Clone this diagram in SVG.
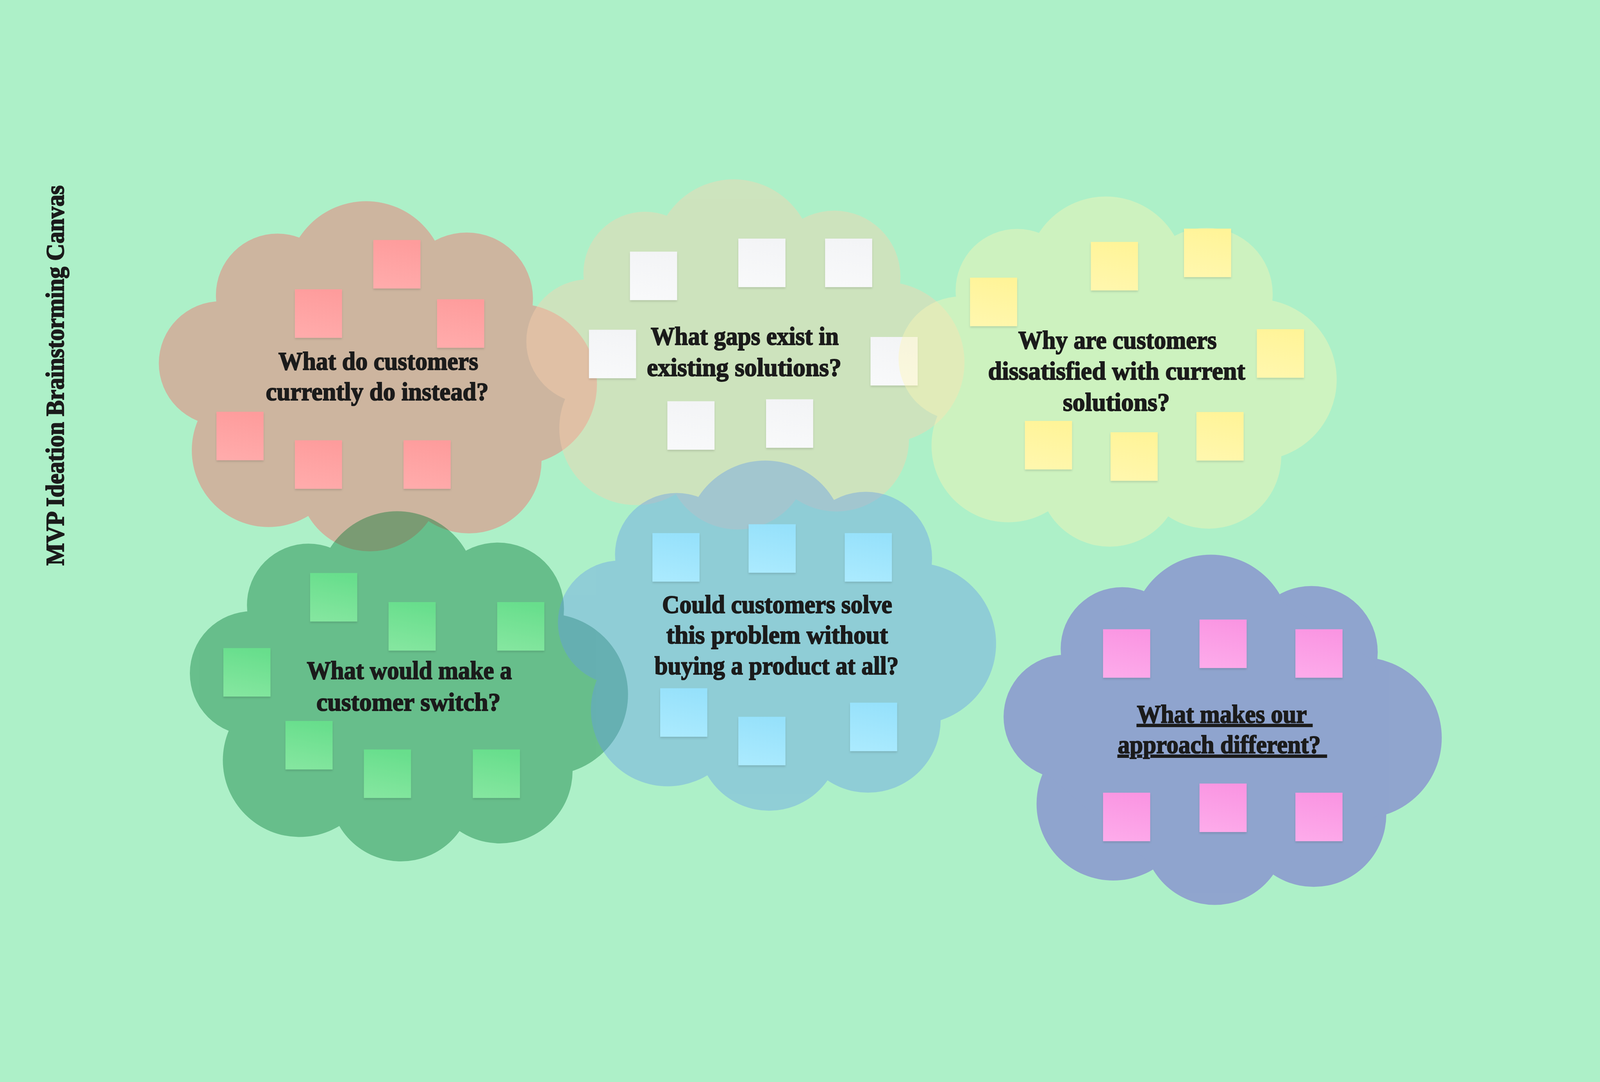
<svg xmlns="http://www.w3.org/2000/svg" width="5773" height="2771" viewBox="0 0 5773 2771">
<style>
:root{width:100vw;height:100vh;background:#adf0c8}
.q{font-family:"Liberation Serif","Times New Roman",serif;font-weight:700;font-size:92px;fill:#1b1b1b;stroke:#1b1b1b;stroke-width:3px;text-anchor:middle}
.qs{text-anchor:start}
.u{text-decoration:underline}
.n{filter:url(#sh)}
.pink{fill:url(#gPink)}
.white{fill:url(#gWhite)}
.yel{fill:url(#gYel)}
.grn{fill:url(#gGrn)}
.blu{fill:url(#gBlu)}
.mag{fill:url(#gMag)}
.cl{opacity:0.4}
</style>
<defs>
<g id="cloud">
<circle cx="748" cy="290" r="287"/>
<circle cx="428" cy="342" r="222"/>
<circle cx="224" cy="588" r="224"/>
<circle cx="396" cy="902" r="277"/>
<circle cx="762" cy="1009" r="258"/>
<circle cx="1119" cy="940" r="262"/>
<circle cx="1290" cy="664" r="291"/>
<circle cx="1111" cy="355" r="239"/>
<polygon points="513,141 987,162 1341,390 1369,934 972,1146 547,1133 155,794 228,368"/>
</g>
<linearGradient id="gPink" x1="0.6" y1="0" x2="0.4" y2="1"><stop offset="0" stop-color="#fe9c9c"/><stop offset="1" stop-color="#ffabab"/></linearGradient>
<linearGradient id="gWhite" x1="0.6" y1="0" x2="0.4" y2="1"><stop offset="0" stop-color="#f3f4f6"/><stop offset="1" stop-color="#f8f9fa"/></linearGradient>
<linearGradient id="gYel" x1="0.6" y1="0" x2="0.4" y2="1"><stop offset="0" stop-color="#fff498"/><stop offset="1" stop-color="#fff7ad"/></linearGradient>
<linearGradient id="gGrn" x1="0.6" y1="0" x2="0.4" y2="1"><stop offset="0" stop-color="#67de8c"/><stop offset="1" stop-color="#84e69f"/></linearGradient>
<linearGradient id="gBlu" x1="0.6" y1="0" x2="0.4" y2="1"><stop offset="0" stop-color="#96e1fb"/><stop offset="1" stop-color="#aaeafe"/></linearGradient>
<linearGradient id="gMag" x1="0.6" y1="0" x2="0.4" y2="1"><stop offset="0" stop-color="#fa95e2"/><stop offset="1" stop-color="#fdaaea"/></linearGradient>
<filter id="sh" x="-10%" y="-10%" width="120%" height="125%"><feDropShadow dx="0" dy="5" stdDeviation="4" flood-color="#000" flood-opacity="0.13"/></filter>
</defs>
<rect width="5773" height="2771" fill="#adf0c8"/>
<g id="title">
<text class="q qs" transform="translate(230,1474) rotate(-90)" textLength="1372" lengthAdjust="spacingAndGlyphs">MVP Ideation Brainstorming Canvas</text>
</g>
<g id="connectors"/>
<g id="node-alternatives">
<use href="#cloud" x="573" y="156" fill="#fd5f64" class="cl"/>
<rect class="n pink" x="1347" y="299" width="170" height="175"/>
<rect class="n pink" x="1064" y="477" width="170" height="175"/>
<rect class="n pink" x="1577" y="513" width="170" height="175"/>
<rect class="n pink" x="781" y="919" width="170" height="175"/>
<rect class="n pink" x="1064" y="1022" width="170" height="175"/>
<rect class="n pink" x="1456" y="1022" width="170" height="175"/>
<text class="q" x="1365" y="767" textLength="721" lengthAdjust="spacingAndGlyphs">What do customers</text>
<text class="q" x="1361" y="878" textLength="804" lengthAdjust="spacingAndGlyphs">currently do instead?</text>
</g>
<g id="node-gaps">
<use href="#cloud" x="1899" y="77" fill="#fdd2af" class="cl"/>
<rect class="n white" x="2273" y="341" width="170" height="175"/>
<rect class="n white" x="2664" y="294" width="170" height="175"/>
<rect class="n white" x="2977" y="294" width="170" height="175"/>
<rect class="n white" x="2125" y="623" width="170" height="175"/>
<rect class="n white" x="3141" y="649" width="170" height="175"/>
<rect class="n white" x="2408" y="881" width="170" height="175"/>
<rect class="n white" x="2764" y="874" width="170" height="175"/>
<text class="q" x="2687" y="677" textLength="678" lengthAdjust="spacingAndGlyphs">What gaps exist in</text>
<text class="q" x="2685" y="790" textLength="702" lengthAdjust="spacingAndGlyphs">existing solutions?</text>
</g>
<g id="node-dissatisfied">
<use href="#cloud" x="3242" y="139" fill="#fff7b4" class="cl"/>
<rect class="n yel" x="3500" y="435" width="170" height="175"/>
<rect class="n yel" x="3936" y="306" width="170" height="175"/>
<rect class="n yel" x="4272" y="258" width="170" height="175"/>
<rect class="n yel" x="4535" y="621" width="170" height="175"/>
<rect class="n yel" x="3698" y="952" width="170" height="175"/>
<rect class="n yel" x="4007" y="993" width="170" height="175"/>
<rect class="n yel" x="4317" y="920" width="170" height="175"/>
<text class="q" x="4032" y="692" textLength="716" lengthAdjust="spacingAndGlyphs">Why are customers</text>
<text class="q" x="4029" y="803" textLength="928" lengthAdjust="spacingAndGlyphs">dissatisfied with current</text>
<text class="q" x="4028" y="916" textLength="386" lengthAdjust="spacingAndGlyphs">solutions?</text>
</g>
<g id="node-switch">
<use href="#cloud" x="685" y="1275" fill="#007632" class="cl"/>
<rect class="n grn" x="1119" y="1501" width="170" height="175"/>
<rect class="n grn" x="1402" y="1606" width="170" height="175"/>
<rect class="n grn" x="1794" y="1606" width="170" height="175"/>
<rect class="n grn" x="806" y="1772" width="170" height="175"/>
<rect class="n grn" x="1030" y="2035" width="170" height="175"/>
<rect class="n grn" x="1313" y="2138" width="170" height="175"/>
<rect class="n grn" x="1706" y="2138" width="170" height="175"/>
<text class="q" x="1477" y="1884" textLength="740" lengthAdjust="spacingAndGlyphs">What would make a</text>
<text class="q" x="1474" y="1998" textLength="665" lengthAdjust="spacingAndGlyphs">customer switch?</text>
</g>
<g id="node-without-product">
<use href="#cloud" x="2013" y="1092" fill="#649beb" class="cl"/>
<rect class="n blu" x="2354" y="1357" width="170" height="175"/>
<rect class="n blu" x="2701" y="1325" width="170" height="175"/>
<rect class="n blu" x="3048" y="1357" width="170" height="175"/>
<rect class="n blu" x="2382" y="1917" width="170" height="175"/>
<rect class="n blu" x="2664" y="2020" width="170" height="175"/>
<rect class="n blu" x="3067" y="1969" width="170" height="175"/>
<text class="q" x="2804" y="1646" textLength="830" lengthAdjust="spacingAndGlyphs">Could customers solve</text>
<text class="q" x="2804" y="1755" textLength="800" lengthAdjust="spacingAndGlyphs">this problem without</text>
<text class="q" x="2802" y="1867" textLength="881" lengthAdjust="spacingAndGlyphs">buying a product at all?</text>
</g>
<g id="node-different">
<use href="#cloud" x="3621" y="1432" fill="#6434d7" class="cl"/>
<rect class="n mag" x="3980" y="1704" width="170" height="175"/>
<rect class="n mag" x="4328" y="1669" width="170" height="175"/>
<rect class="n mag" x="4674" y="1704" width="170" height="175"/>
<rect class="n mag" x="3980" y="2294" width="170" height="175"/>
<rect class="n mag" x="4328" y="2261" width="170" height="175"/>
<rect class="n mag" x="4674" y="2294" width="170" height="175"/>
<text class="q qs u" xml:space="preserve" x="4102" y="2041" textLength="633" lengthAdjust="spacingAndGlyphs">What makes our </text>
<text class="q qs u" xml:space="preserve" x="4033" y="2152" textLength="754" lengthAdjust="spacingAndGlyphs">approach different? </text>
</g>
</svg>
